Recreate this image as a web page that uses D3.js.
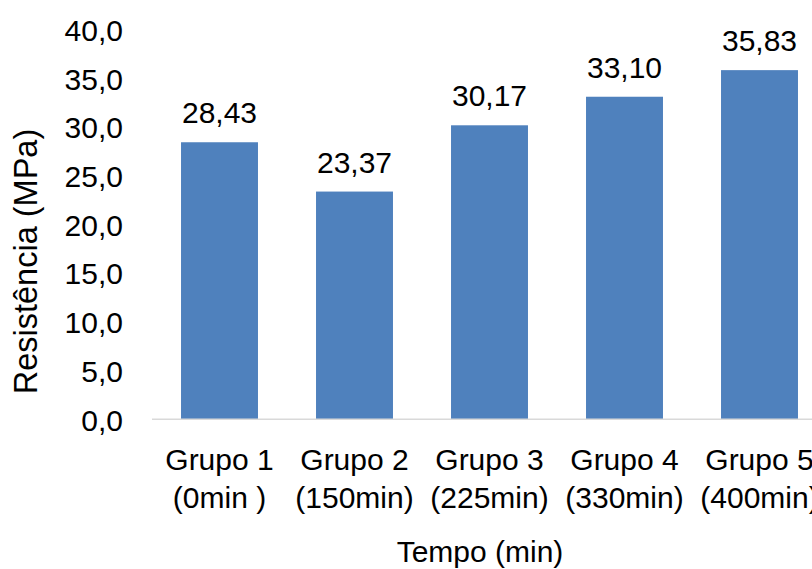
<!DOCTYPE html>
<html>
<head>
<meta charset="utf-8">
<script src="https://cdn.jsdelivr.net/npm/d3@7"></script>
<style>
  html, body { margin: 0; padding: 0; background: #fff; overflow: hidden; }
  svg { display: block; font-family: "Liberation Sans", Arial, sans-serif; }
</style>
</head>
<body>
<svg id="chart" width="812" height="569"></svg>
<script>
// Compressive strength per group
const groups = ["Grupo 1", "Grupo 2", "Grupo 3", "Grupo 4", "Grupo 5"];
const times = ["(0min )", "(150min)", "(225min)", "(330min)", "(400min)"];
const strength = [28.43, 23.37, 30.17, 33.10, 35.83];
const yTicks = [0, 5, 10, 15, 20, 25, 30, 35, 40];

const ptBR = d3.formatLocale({ decimal: ",", thousands: ".", grouping: [3], currency: ["R$", ""] });
const fmtTick = ptBR.format(".1f");
const fmtValue = ptBR.format(".2f");

const svg = d3.select("#chart");
const plot = { left: 152, right: 827, top: 29.5, bottom: 419.3 };

const x = d3.scaleBand()
  .domain(groups)
  .range([plot.left, plot.right])
  .paddingInner(0.43)
  .paddingOuter(0.215);

const y = d3.scaleLinear()
  .domain([0, 40])
  .range([plot.bottom, plot.top]);

// Y axis: labels only
const yAxis = svg.append("g")
  .attr("transform", `translate(${plot.left},0)`)
  .call(d3.axisLeft(y).tickValues(yTicks).tickSize(0).tickPadding(29).tickFormat(fmtTick));
yAxis.select(".domain").remove();
yAxis.selectAll("text")
  .attr("dy", "0.36em")
  .attr("fill", "#000")
  .style("font-size", "30px")
  .style("font-family", "'Liberation Sans', Arial, sans-serif");

// Bars
svg.append("g").selectAll("rect")
  .data(strength)
  .join("rect")
  .attr("x", (d, i) => x(groups[i]))
  .attr("width", x.bandwidth())
  .attr("y", d => y(d))
  .attr("height", d => y(0) - y(d))
  .attr("fill", "#4F81BD");

// Value labels
svg.append("g").selectAll("text")
  .data(strength)
  .join("text")
  .attr("x", (d, i) => x(groups[i]) + x.bandwidth() / 2)
  .attr("y", d => y(d) - 19)
  .attr("text-anchor", "middle")
  .style("font-size", "30px")
  .attr("fill", "#000")
  .text(d => fmtValue(d));

// X axis baseline
svg.append("line")
  .attr("x1", plot.left).attr("x2", plot.right)
  .attr("y1", y(0)).attr("y2", y(0))
  .attr("stroke", "#D9D9D9")
  .attr("stroke-width", 1.5);

// Category labels (two lines)
const cat = svg.append("g").selectAll("text")
  .data(groups)
  .join("text")
  .attr("text-anchor", "middle")
  .style("font-size", "30px")
  .style("white-space", "pre")
  .attr("fill", "#000");
cat.append("tspan")
  .attr("x", d => x(d) + x.bandwidth() / 2)
  .attr("y", 470)
  .text(d => d);
cat.append("tspan")
  .attr("x", d => x(d) + x.bandwidth() / 2)
  .attr("y", 508)
  .text((d, i) => times[i]);

// Axis titles
svg.append("text")
  .attr("x", 480)
  .attr("y", 562)
  .attr("text-anchor", "middle")
  .style("font-size", "30px")
  .attr("fill", "#000")
  .text("Tempo (min)");

svg.append("text")
  .attr("transform", "translate(37,261.5) rotate(-90)")
  .attr("text-anchor", "middle")
  .style("font-size", "32.5px")
  .attr("fill", "#000")
  .text("Resistência (MPa)");
</script>
</body>
</html>
